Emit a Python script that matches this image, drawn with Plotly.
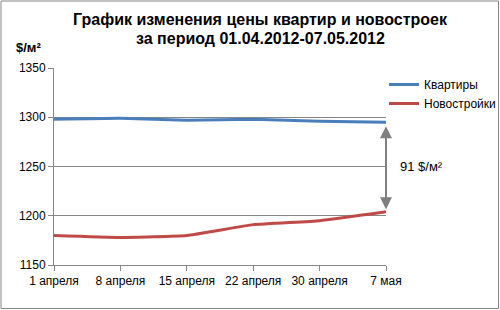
import plotly.graph_objects as go

categories = ["1 апреля", "8 апреля", "15 апреля", "22 апреля", "30 апреля", "7 мая"]
kvartiry = [1298, 1299, 1297, 1298, 1296, 1295]
novostroiki = [1180, 1178, 1180, 1191, 1195, 1204]
y_ticks = [1150, 1200, 1250, 1300, 1350]
title_lines = ["График изменения цены квартир и новостроек", "за период 01.04.2012-07.05.2012"]

W, H = 500, 310
ml, mr, mt, mb = 54, 114, 68, 45

FONT = "Liberation Sans, Arial, sans-serif"
GRID = "#868686"

fig = go.Figure()
fig.add_trace(go.Scatter(x=categories, y=kvartiry, mode="lines", name="Квартиры",
                         line=dict(color="#4a7ebb", width=3, shape="spline", smoothing=0.4)))
fig.add_trace(go.Scatter(x=categories, y=novostroiki, mode="lines", name="Новостройки",
                         line=dict(color="#be4b48", width=3, shape="spline", smoothing=0.4)))

diff = kvartiry[-1] - novostroiki[-1]
fig.add_annotation(x=categories[-1], y=kvartiry[-1], ax=categories[-1], ay=novostroiki[-1],
                   xref="x", yref="y", axref="x", ayref="y", text="", showarrow=True,
                   arrowhead=2, arrowside="end+start", arrowsize=1.2, arrowwidth=2,
                   arrowcolor="#7f7f7f", standoff=4, startstandoff=1)
fig.add_annotation(x=categories[-1], y=(kvartiry[-1] + novostroiki[-1]) / 2,
                   xref="x", yref="y", xshift=12, xanchor="left", yanchor="middle",
                   text=f"{diff} $/м²", showarrow=False,
                   font=dict(family=FONT, size=13, color="#000"))
fig.add_annotation(x=14 / W, y=1 - 47 / H, xref="paper", yref="paper", showarrow=False,
                   xanchor="left", yanchor="middle", text="<b>$/м²</b>",
                   font=dict(family=FONT, size=13, color="#000"))
pw = W - ml - mr
ph = H - mt - mb
fig.layout.annotations[-1].update(x=(14 - ml) / pw, y=(H - 47 - mb) / ph)

for i, (line, ypx) in enumerate(zip(title_lines, [20, 38])):
    fig.add_annotation(x=(260 - ml) / pw, y=(H - ypx - mb) / ph, xref="paper", yref="paper",
                       showarrow=False, xanchor="center", yanchor="middle",
                       text=f"<b>{line}</b>", font=dict(family=FONT, size=16, color="#000"))

fig.add_shape(type="rect", xref="paper", yref="paper",
              x0=(1 - ml) / pw, x1=(498.5 - ml) / pw,
              y0=(H - 308.5 - mb) / ph, y1=(H - 1 - mb) / ph,
              line=dict(color=GRID, width=1), fillcolor="rgba(0,0,0,0)", layer="above")

fig.update_layout(
    width=W, height=H,
    margin=dict(l=ml, r=mr, t=mt, b=mb, autoexpand=False),
    paper_bgcolor="white", plot_bgcolor="white",
    legend=dict(x=384 / W, y=1 - 70 / H, xref="container", yref="container",
                xanchor="left", yanchor="top",
                font=dict(family=FONT, size=12, color="#000"), tracegroupgap=8,
                bgcolor="rgba(0,0,0,0)"),
    font=dict(family=FONT, size=12, color="#000"),
)
fig.update_xaxes(type="category", range=[0, len(categories) - 1], showgrid=False,
                 showline=True, linecolor=GRID, linewidth=1, ticks="outside",
                 ticklen=5, tickcolor=GRID, tickfont=dict(family=FONT, size=12, color="#000"))
fig.update_yaxes(range=[y_ticks[0], y_ticks[-1]], tickvals=y_ticks, showgrid=True,
                 gridcolor=GRID, gridwidth=1, showline=True, linecolor=GRID, linewidth=1,
                 ticks="outside", ticklen=5, tickcolor=GRID, zeroline=False,
                 tickfont=dict(family=FONT, size=12, color="#000"))

fig.write_html("out.html")
